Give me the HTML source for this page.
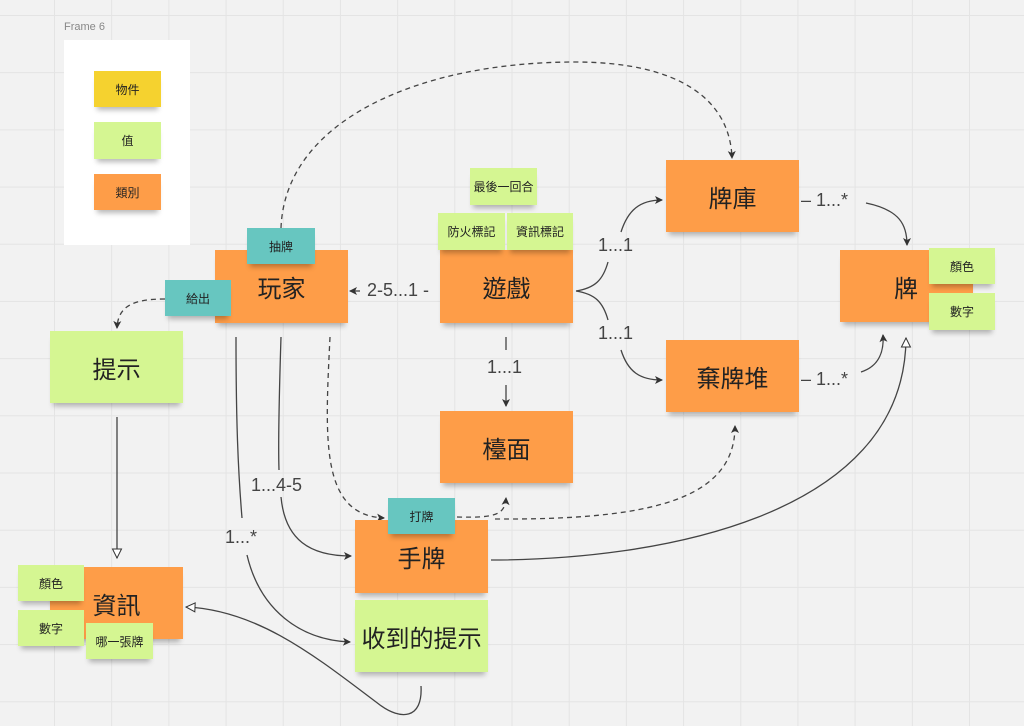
<!DOCTYPE html>
<html><head><meta charset="utf-8"><style>
html,body{margin:0;padding:0}
body{width:1024px;height:726px;overflow:hidden;position:relative;background-color:#f2f2f2;
background-image:linear-gradient(to right,#e4e4e4 1px,transparent 1px),linear-gradient(to bottom,#e4e4e4 1px,transparent 1px);
background-size:57.2px 57.2px;background-position:54px 15px;font-family:"Liberation Sans","Noto Sans CJK TC",sans-serif;color:#222}
.s{position:absolute;display:flex;align-items:center;justify-content:center;box-shadow:0 6px 5px -3px rgba(0,0,0,0.28);}
.o{background:#fe9d48;font-size:24px}
.g{background:#d5f692;}
.t{background:#67c6c0;font-size:12px}
.y{background:#f5d22f;}
.sm{font-size:12px}
.big{font-size:24px}
.lb{position:absolute;font-size:18px;color:#444;white-space:nowrap}
svg{position:absolute;left:0;top:0}
</style></head><body>
<div style="position:absolute;left:64px;top:21px;font-size:11px;color:#888">Frame 6</div>
<div style="position:absolute;left:64px;top:40px;width:126px;height:205px;background:#fff"></div>
<div class="s y sm" style="left:94px;top:71px;width:67px;height:36px">物件</div>
<div class="s g sm" style="left:94px;top:122px;width:67px;height:37px">值</div>
<div class="s o sm" style="left:94px;top:174px;width:67px;height:36px;font-size:12px">類別</div>

<svg width="1024" height="726" viewBox="0 0 1024 726">
<defs>
<marker id="a" markerWidth="10" markerHeight="10" refX="8" refY="5" orient="auto" markerUnits="userSpaceOnUse"><path d="M1,1 L9,5 L1,9 L3,5 z" fill="#333"/></marker>
<marker id="h" markerWidth="12" markerHeight="12" refX="10" refY="6" orient="auto" markerUnits="userSpaceOnUse"><path d="M1,1.5 L10,6 L1,10.5 z" fill="#fff" stroke="#333" stroke-width="1"/></marker>
</defs>
<g fill="none" stroke="#444" stroke-width="1.3">
<path d="M281,228 C285,120 420,62 575,62 C680,62 730,100 732,158" stroke-dasharray="5,4" marker-end="url(#a)"/>
<path d="M165,299 C135,299 118,305 117,328" stroke-dasharray="5,4" marker-end="url(#a)"/>
<path d="M117,417 L117,558" marker-end="url(#h)"/>
<path d="M360,291 L350,291" marker-end="url(#a)"/>
<path d="M506,337 L506,350"/>
<path d="M506,385 L506,406" marker-end="url(#a)"/>
<path d="M576,291 C595,288 603,280 608,262"/>
<path d="M621,232 C628,210 640,200 662,200" marker-end="url(#a)"/>
<path d="M576,291 C595,294 603,302 608,320"/>
<path d="M621,350 C628,372 640,380 662,380" marker-end="url(#a)"/>
<path d="M866,203 C900,210 907,225 907,245" marker-end="url(#a)"/>
<path d="M861,372 C880,366 884,350 883,335" marker-end="url(#a)"/>
<path d="M236,337 C236,420 238,470 242,518"/>
<path d="M247,555 C260,610 300,640 350,642" marker-end="url(#a)"/>
<path d="M281,337 C279,400 278,440 279,470"/>
<path d="M281,497 C285,540 310,556 351,556" marker-end="url(#a)"/>
<path d="M330,337 C325,440 320,515 384,518" stroke-dasharray="5,4" marker-end="url(#a)"/>
<path d="M457,517 C495,518 505,515 506,498" stroke-dasharray="5,4" marker-end="url(#a)"/>
<path d="M495,519 C650,520 735,500 735,426" stroke-dasharray="5,4" marker-end="url(#a)"/>
<path d="M491,560 C650,560 905,520 906,338" marker-end="url(#h)"/>
<path d="M421,686 C423,720 400,720 380,705 C320,660 260,610 186,607" marker-end="url(#h)"/>
</g>
</svg>

<div class="lb" style="left:367px;top:280px">2-5...1 -</div>
<div class="lb" style="left:487px;top:357px">1...1</div>
<div class="lb" style="left:598px;top:235px">1...1</div>
<div class="lb" style="left:598px;top:323px">1...1</div>
<div class="lb" style="left:801px;top:190px">– 1...*</div>
<div class="lb" style="left:801px;top:369px">– 1...*</div>
<div class="lb" style="left:251px;top:475px">1...4-5</div>
<div class="lb" style="left:225px;top:527px">1...*</div>

<div class="s o" style="left:215px;top:250px;width:133px;height:73px">玩家</div>
<div class="s t" style="left:247px;top:228px;width:68px;height:36px">抽牌</div>
<div class="s t" style="left:165px;top:280px;width:66px;height:36px">給出</div>
<div class="s g big" style="left:50px;top:331px;width:133px;height:72px">提示</div>
<div class="s o" style="left:440px;top:250px;width:133px;height:73px">遊戲</div>
<div class="s g sm" style="left:470px;top:168px;width:67px;height:37px">最後一回合</div>
<div class="s g sm" style="left:438px;top:213px;width:67px;height:37px">防火標記</div>
<div class="s g sm" style="left:507px;top:213px;width:66px;height:37px">資訊標記</div>
<div class="s o" style="left:666px;top:160px;width:133px;height:72px">牌庫</div>
<div class="s o" style="left:666px;top:340px;width:133px;height:72px">棄牌堆</div>
<div class="s o" style="left:840px;top:250px;width:133px;height:72px;justify-content:flex-start;padding-left:54px;box-sizing:border-box">牌</div>
<div class="s g sm" style="left:929px;top:248px;width:66px;height:36px">顏色</div>
<div class="s g sm" style="left:929px;top:293px;width:66px;height:37px">數字</div>
<div class="s o" style="left:440px;top:411px;width:133px;height:72px">檯面</div>
<div class="s o" style="left:355px;top:520px;width:133px;height:73px">手牌</div>
<div class="s t" style="left:388px;top:498px;width:67px;height:36px">打牌</div>
<div class="s g big" style="left:355px;top:600px;width:133px;height:72px">收到的提示</div>
<div class="s o" style="left:50px;top:567px;width:133px;height:72px">資訊</div>
<div class="s g sm" style="left:18px;top:565px;width:66px;height:36px">顏色</div>
<div class="s g sm" style="left:18px;top:610px;width:66px;height:36px">數字</div>
<div class="s g sm" style="left:86px;top:623px;width:67px;height:36px">哪一張牌</div>
</body></html>
